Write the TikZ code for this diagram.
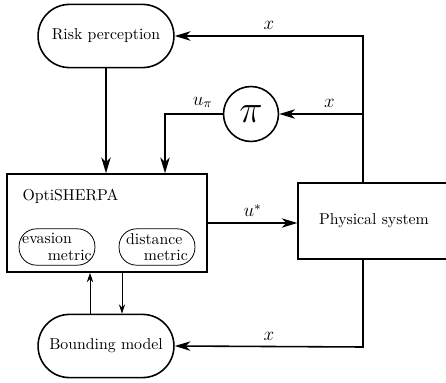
\documentclass[tikz,border=0pt]{standalone}
\usepackage{amsmath}
\usepackage{amssymb}
\usepackage{tikz}
\usetikzlibrary{positioning, arrows.meta, calc}

\begin{document}
\begin{tikzpicture}[x=0.633pt, y=-0.633pt,
                    >={Stealth[length=10pt, width=6pt, inset=3pt]},
                    block/.style={draw, line width=1pt, rectangle},
                    pill/.style={draw, line width=1pt, rectangle, rounded corners=19.9pt, minimum width=86pt, minimum height=40pt},
                    metricbox/.style={draw, line width=0.5pt, rectangle, rounded corners=11pt, minimum width=48pt, minimum height=23pt, inner xsep=2pt, inner ysep=0pt, align=left},
                    wire/.style={line width=1pt},
                    lbl/.style={font=\large},
                    thinwire/.style={line width=0.6pt, -{Stealth[length=6pt, width=4pt, inset=2pt]}}]
                    \useasboundingbox (0,0) rectangle (446,383);
                    \clip (0,0) rectangle (446,383);

                    % Blocks
                    \node[pill] (risk) at (106,36) {Risk perception};
                    \node[draw, circle, line width=1pt, minimum size=34.8pt, inner sep=0pt] (pi) at (251,114) {\Huge$\pi$};
                    \node[block, minimum width=126.6pt, minimum height=62pt] (opti) at (107,223) {};
                    \node[right] (title) at (17,196) {OptiSHERPA};
                    \node[metricbox, text width=44pt] (evasion) at (57,247) {evasion\\[-1.5pt]\hspace*{\fill}metric};
                    \node[metricbox, text width=39pt] (distance) at (157,247) {distance\\[-1.5pt]\hspace*{\fill}metric};
                    \node[block, minimum width=96pt, minimum height=48pt] (phys) at (374,221) {Physical system};
                    \node[pill] (bound) at (106,346) {Bounding model};

                    \coordinate (xtop) at (363,36);
                    \coordinate (xmid) at (363,114);
                    \coordinate (xbot) at (363,347);
                    \coordinate (upi) at (165,114);
                    \coordinate (bup) at (90,0);
                    \coordinate (bdown) at (122,0);

                    % State feedback
                    \draw[wire, ->] (xtop |- phys.north) -- (xtop) -- node[lbl, above] {$x$} (risk.east);
                    \draw[wire, ->] (xmid) -- node[lbl, above, pos=0.4] {$x$} (pi.east);
                    \draw[wire, ->] (xtop |- phys.south) -- (xbot) -- node[lbl, above] {$x$} (bound.east);

                    % Inputs to OptiSHERPA
                    \draw[wire, ->] (risk.south) -- (risk.south |- opti.north);
                    \draw[wire, ->] (pi.west) -- node[lbl, above, pos=0.35] {$u_\pi$} (upi) -- (upi |- opti.north);
                    \draw[wire, ->] (opti.east) -- node[lbl, above] {$u^*$} (opti.east -| phys.west);

                    % Bounding model
                    \draw[thinwire] (bup |- bound.north) -- (bup |- opti.south);
                    \draw[thinwire] (bdown |- opti.south) -- (bdown |- bound.north);

                \end{tikzpicture}
\end{document}
